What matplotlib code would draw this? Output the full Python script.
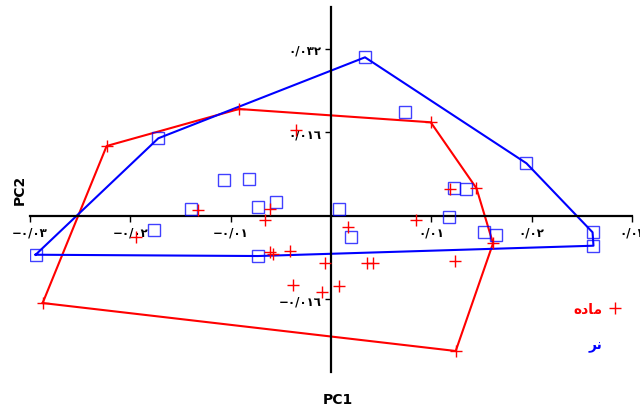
import matplotlib
matplotlib.use("Agg")
import matplotlib.pyplot as plt
from matplotlib.lines import Line2D
import numpy as np

plt.rcParams['font.family'] = ['DejaVu Sans']

# PCA scores (PC1, PC2) per group
female_pc1 = [-0.02236, -0.00917, 0.00994, 0.01450, 0.01615, 0.01243, -0.02874,
              -0.00352, -0.01324, -0.00611, -0.00658, -0.00611, -0.00574, -0.00412,
              -0.00058, -0.00377, -0.00086, 0.00077, -0.01947, 0.00171, 0.00363,
              0.00421, 0.00851, 0.01233, 0.01183]
female_pc2 = [0.01338, 0.02048, 0.01793, 0.00526, -0.00530, -0.02597, -0.01676,
              0.01651, 0.00119, 0.00129, -0.00077, -0.00697, -0.00726, -0.00687,
              -0.00908, -0.01330, -0.01459, -0.01355, -0.00403, -0.00223, -0.00914,
              -0.00908, -0.00083, -0.00875, 0.00512]

male_pc1 = [-0.02944, -0.01721, 0.00339, 0.01948, 0.02607, 0.02616, -0.00728,
            -0.01392, -0.00731, -0.00551, -0.01765, -0.01067, -0.00821, 0.00077,
            0.00196, 0.01230, 0.01350, 0.01173, 0.01522, 0.01649, 0.00735]
male_pc2 = [-0.00749, 0.01486, 0.03040, 0.01006, -0.00319, -0.00576, -0.00774,
            0.00129, 0.00161, 0.00269, -0.00274, 0.00691, 0.00714, 0.00129,
            -0.00403, 0.00526, 0.00512, -0.00031, -0.00307, -0.00365, 0.01996]

x_ticks = [-0.03, -0.02, -0.01, 0.01, 0.02, 0.03]
x_tick_labels = ["\u2212\u0660/\u0660\u0663", "\u2212\u0660/\u0660\u0662", "\u2212\u0660/\u0660\u0661",
                 "\u0660/\u0660\u0661", "\u0660/\u0660\u0662", "\u0660/\u0660\u0663"]
y_ticks = [-0.016, 0.016, 0.032]
y_tick_labels = ["\u2212\u0660/\u0660\u0661\u0666", "\u0660/\u0660\u0661\u0666", "\u0660/\u0660\u0663\u0662"]

# Group names, written in visual (shaped) order
female_label = "\uFEE9\uFEA9\uFE8E\uFEE3"   # ماده
male_label = "\uFEAE\uFEE7"                 # نر


def convex_hull(xs, ys):
    pts = sorted(set(zip(xs, ys)))

    def cross(o, a, b):
        return (a[0] - o[0]) * (b[1] - o[1]) - (a[1] - o[1]) * (b[0] - o[0])

    lower, upper = [], []
    for p in pts:
        while len(lower) >= 2 and cross(lower[-2], lower[-1], p) <= 0:
            lower.pop()
        lower.append(p)
    for p in reversed(pts):
        while len(upper) >= 2 and cross(upper[-2], upper[-1], p) <= 0:
            upper.pop()
        upper.append(p)
    hull = lower[:-1] + upper[:-1]
    hull.append(hull[0])
    return np.array(hull)


fig = plt.figure(figsize=(6.4, 4.1), dpi=100)
ax = fig.add_axes([30 / 640, 1 - 373 / 410, 602 / 640, (373 - 8.3) / 410])
ax.set_xlim(-0.03, 0.03)
ax.set_ylim(-0.03, 0.04)

for s in ("top", "right"):
    ax.spines[s].set_visible(False)
ax.spines["left"].set_position(("data", 0))
ax.spines["bottom"].set_position(("data", 0))
ax.spines["left"].set_linewidth(1.6)
ax.spines["bottom"].set_linewidth(1.6)

red = "#ff0000"
blue = "#0000ff"

hf = convex_hull(female_pc1, female_pc2)
hm = convex_hull(male_pc1, male_pc2)
ax.plot(hf[:, 0], hf[:, 1], color=red, lw=1.5, zorder=2)
ax.plot(hm[:, 0], hm[:, 1], color=blue, lw=1.5, zorder=2)

ax.plot(male_pc1, male_pc2, linestyle="none", marker="s", markersize=8.5,
        markerfacecolor="none", markeredgecolor=blue, markeredgewidth=1.0,
        alpha=0.75, zorder=3)
ax.plot(female_pc1, female_pc2, linestyle="none", marker="+", markersize=9,
        markeredgewidth=1.0, color=red, zorder=4)

ax.set_xticks(x_ticks)
ax.set_xticklabels(x_tick_labels, fontsize=8.5, fontweight="bold")
ax.set_yticks(y_ticks)
ax.set_yticklabels(y_tick_labels, fontsize=8.5, fontweight="bold")
ax.tick_params(axis="both", direction="out", length=4, width=1, pad=3)

fig.text(338 / 640, 1 - 400 / 410, "PC1", ha="center", va="center",
         fontsize=10, fontweight="bold")
fig.text(20 / 640, 1 - 190 / 410, "PC2", ha="center", va="center",
         fontsize=10, fontweight="bold", rotation=90)

handles = [Line2D([], [], linestyle="none", marker="+", color=red, markersize=9),
           Line2D([], [], linestyle="none", marker=None)]
leg = ax.legend(handles, [female_label, male_label], markerfirst=False,
                loc="center", bbox_to_anchor=(598 / 640, 1 - 328 / 410),
                bbox_transform=fig.transFigure, frameon=False,
                labelspacing=1.6, handlelength=1.0, handletextpad=0.4,
                prop={"weight": "bold", "size": 10})
for txt, c in zip(leg.get_texts(), [red, blue]):
    txt.set_color(c)

fig.savefig("out.png", dpi=100)
